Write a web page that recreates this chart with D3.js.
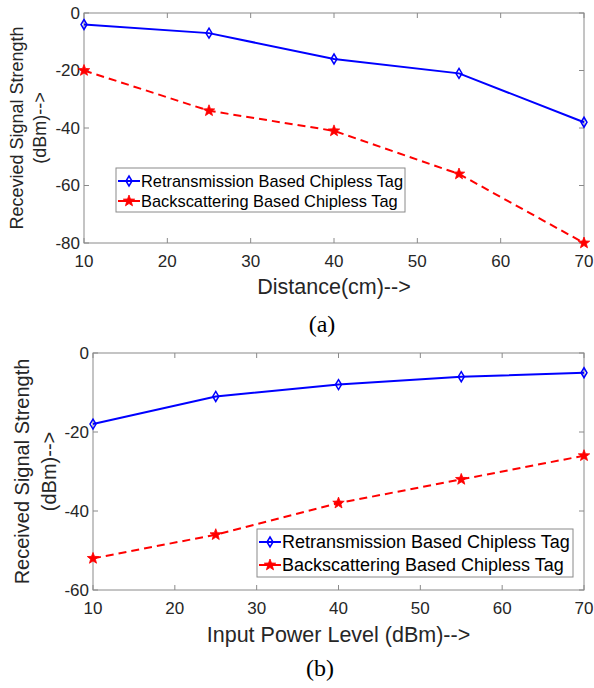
<!DOCTYPE html>
<html>
<head>
<meta charset="utf-8">
<script src="https://cdn.jsdelivr.net/npm/d3@7"></script>
<style>
  body { margin: 0; background: #fff; }
  svg { display: block; }
</style>
</head>
<body>
<svg id="chart" width="594" height="688"></svg>
<script>
// shared x values (both panels)
const xValues = [10, 25, 40, 55, 70];
const xTicks = [10, 20, 30, 40, 50, 60, 70];
const seriesNames = ["Retransmission Based Chipless Tag", "Backscattering Based Chipless Tag"];

// panel (a): distance
const retransA = [-4, -7, -16, -21, -38];
const backscatA = [-20, -34, -41, -56, -80];
const yTicksA = [0, -20, -40, -60, -80];

// panel (b): input power
const retransB = [-18, -11, -8, -6, -5];
const backscatB = [-52, -46, -38, -32, -26];
const yTicksB = [0, -20, -40, -60];

const svg = d3.select("#chart");
const textCol = "#262626", axisCol = "#8a8a8a";
const blue = "#0000ff", red = "#ff0000";
const sans = "'Liberation Sans', Arial, sans-serif";

function starPath(r) {
    let p = [];
    for (let i = 0; i < 10; i++) {
        let a = -Math.PI / 2 + i * Math.PI / 5;
        let rr = i % 2 ? r * 0.42 : r;
        p.push([rr * Math.cos(a), rr * Math.sin(a)]);
    }
    return "M" + p.map(d => d.join(",")).join("L") + "Z";
}
const diamondPath = "M0,-5L3,0L0,5L-3,0Z";

function drawPanel(opt) {
    let g = svg.append("g");
    let x = d3.scaleLinear().domain([10, 70]).range([opt.left, opt.right]);
    let y = d3.scaleLinear().domain(opt.yDomain).range([opt.bottom, opt.top]);

    // box
    g.append("rect")
        .attr("x", opt.left).attr("y", opt.top)
        .attr("width", opt.right - opt.left).attr("height", opt.bottom - opt.top)
        .attr("fill", "none").attr("stroke", axisCol).attr("stroke-width", 1);

    // ticks, inward on all sides
    let tl = 5;
    g.append("g").selectAll("line").data(xTicks).join("line")
        .attr("x1", d => x(d)).attr("x2", d => x(d))
        .attr("y1", opt.bottom).attr("y2", opt.bottom - tl)
        .attr("stroke", axisCol);
    g.append("g").selectAll("line").data(xTicks).join("line")
        .attr("x1", d => x(d)).attr("x2", d => x(d))
        .attr("y1", opt.top).attr("y2", opt.top + tl)
        .attr("stroke", axisCol);
    g.append("g").selectAll("line").data(opt.yTicks).join("line")
        .attr("x1", opt.left).attr("x2", opt.left + tl)
        .attr("y1", d => y(d)).attr("y2", d => y(d))
        .attr("stroke", axisCol);
    g.append("g").selectAll("line").data(opt.yTicks).join("line")
        .attr("x1", opt.right).attr("x2", opt.right - tl)
        .attr("y1", d => y(d)).attr("y2", d => y(d))
        .attr("stroke", axisCol);

    // tick labels
    g.append("g").style("font", "17px " + sans).attr("fill", textCol)
        .selectAll("text").data(xTicks).join("text")
        .attr("x", d => x(d)).attr("y", opt.bottom + 24)
        .attr("text-anchor", "middle")
        .text(d => d);
    g.append("g").style("font", "17px " + sans).attr("fill", textCol)
        .selectAll("text").data(opt.yTicks).join("text")
        .attr("x", opt.left - 4).attr("y", d => y(d))
        .attr("dy", "0.35em")
        .attr("text-anchor", "end")
        .text(d => d === 0 ? "0" : "-" + Math.abs(d));

    // axis labels
    g.append("text")
        .attr("x", (opt.left + opt.right) / 2).attr("y", opt.xLabelY)
        .attr("text-anchor", "middle").attr("fill", textCol)
        .style("font", opt.xLabelSize + "px " + sans)
        .text(opt.xLabel);
    let yl = g.append("text")
        .attr("transform", `translate(${opt.yLabelX},${(opt.top + opt.bottom) / 2}) rotate(-90)`)
        .attr("text-anchor", "middle").attr("fill", textCol)
        .style("font", opt.yLabelSize + "px " + sans);
    yl.append("tspan").attr("x", 0).attr("dy", 0).text(opt.yLabel[0]);
    yl.append("tspan").attr("x", 0).attr("dy", opt.yLabelGap).text(opt.yLabel[1]);

    // lines
    let line = d3.line().x((d, i) => x(xValues[i])).y(d => y(d));
    g.append("path").datum(opt.retrans).attr("d", line)
        .attr("fill", "none").attr("stroke", blue).attr("stroke-width", 2);
    g.append("path").datum(opt.backscat).attr("d", line)
        .attr("fill", "none").attr("stroke", red).attr("stroke-width", 2)
        .attr("stroke-dasharray", "8,5");

    // markers
    g.append("g").selectAll("path").data(opt.retrans).join("path")
        .attr("transform", (d, i) => `translate(${x(xValues[i])},${y(d)})`)
        .attr("d", diamondPath)
        .attr("fill", "none").attr("stroke", blue).attr("stroke-width", 1.5);
    g.append("g").selectAll("path").data(opt.backscat).join("path")
        .attr("transform", (d, i) => `translate(${x(xValues[i])},${y(d)})`)
        .attr("d", starPath(6))
        .attr("fill", red).attr("stroke", red).attr("stroke-width", 0.8);

    // legend
    let lg = opt.legend;
    g.append("rect")
        .attr("x", lg.x).attr("y", lg.y).attr("width", lg.w).attr("height", lg.h)
        .attr("fill", "#fff").attr("stroke", axisCol);
    let rows = g.append("g").selectAll("g").data(seriesNames).join("g")
        .attr("transform", (d, i) => `translate(${lg.x},${lg.y + lg.row0 + i * lg.rowGap})`);
    rows.append("line")
        .attr("x1", 2).attr("x2", 24).attr("y1", 0).attr("y2", 0)
        .attr("stroke", (d, i) => i ? red : blue).attr("stroke-width", 2);
    rows.append("path")
        .attr("transform", "translate(13,0)")
        .attr("d", (d, i) => i ? starPath(6) : diamondPath)
        .attr("fill", (d, i) => i ? red : "none")
        .attr("stroke", (d, i) => i ? red : blue).attr("stroke-width", (d, i) => i ? 0.8 : 1.5);
    rows.append("text")
        .attr("x", 25).attr("dy", "0.35em").attr("fill", "#000")
        .style("font", lg.font + "px " + sans)
        .text(d => d);

    // caption
    svg.append("text")
        .attr("x", opt.capX).attr("y", opt.capY)
        .attr("text-anchor", "middle").attr("fill", "#000")
        .style("font", "24px 'Liberation Serif', 'Times New Roman', serif")
        .text(opt.caption);
}

drawPanel({
    left: 84, right: 584, top: 13, bottom: 243,
    yDomain: [-80, 0], yTicks: yTicksA,
    retrans: retransA, backscat: backscatA,
    xLabel: "Distance(cm)-->", xLabelY: 294, xLabelSize: 21.5,
    yLabel: ["Recevied Signal Strength", "(dBm)-->"], yLabelX: 23, yLabelGap: 23, yLabelSize: 18,
    legend: { x: 116, y: 168, w: 289, h: 44, row0: 13, rowGap: 20, font: 16.4 },
    caption: "(a)", capX: 322, capY: 332
});

drawPanel({
    left: 93, right: 584, top: 353, bottom: 590,
    yDomain: [-60, 0], yTicks: yTicksB,
    retrans: retransB, backscat: backscatB,
    xLabel: "Input Power Level (dBm)-->", xLabelY: 642, xLabelSize: 21.5,
    yLabel: ["Received Signal Strength", "(dBm)-->"], yLabelX: 29, yLabelGap: 27, yLabelSize: 20,
    legend: { x: 257, y: 529, w: 316, h: 48, row0: 13, rowGap: 23, font: 18 },
    caption: "(b)", capX: 320, capY: 676
});
</script>
</body>
</html>
